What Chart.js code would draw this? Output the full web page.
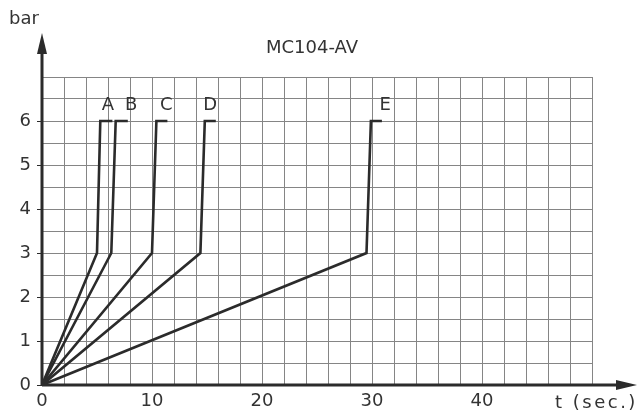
<!DOCTYPE html>
<html>
<head>
<meta charset="utf-8">
<script src="https://cdn.jsdelivr.net/npm/chart.js@4.4.1/dist/chart.umd.min.js"></script>
<style>
  body { margin: 0; background: #fff; }
  #wrap { width: 644px; height: 414px; position: relative; }
</style>
</head>
<body>
<div id="wrap"><canvas id="chart"></canvas></div>
<script>
// curve names and their (t, bar) points
const curveNames = ['A', 'B', 'C', 'D', 'E'];
const curveT = [
  [0, 5.0, 5.3, 6.4],
  [0, 6.3, 6.7, 7.8],
  [0, 10.0, 10.4, 11.4],
  [0, 14.4, 14.8, 15.8],
  [0, 29.5, 29.9, 30.9]
];
const curveBar = [0, 3, 6, 6];
// where the letters sit
const labelT = [6.0, 8.1, 11.3, 15.3, 31.2];
const labelBar = 6.25;

const xTickLabels = [0, 10, 20, 30, 40];
const yTickLabels = [0, 1, 2, 3, 4, 5, 6];
const chartTitle = 'MC104-AV';

const FONT = '"DejaVu Sans", sans-serif';
const INK = '#2b2b2b';

const datasets = curveNames.map((name, i) => ({
  label: name,
  data: curveT[i].map((t, j) => ({ x: t, y: curveBar[j] })),
  borderColor: INK,
  borderWidth: 2.6,
  pointRadius: 0,
  fill: false,
  tension: 0
}));

const decorPlugin = {
  id: 'decor',
  afterDatasetsDraw(chart) {
    const { ctx, chartArea, scales } = chart;
    const x0 = scales.x.getPixelForValue(0);
    const y0 = scales.y.getPixelForValue(0);
    ctx.save();
    // axes with arrows
    ctx.strokeStyle = INK;
    ctx.fillStyle = INK;
    ctx.lineWidth = 3;
    ctx.beginPath();
    ctx.moveTo(x0, y0);
    ctx.lineTo(x0, 50);
    ctx.moveTo(x0, y0);
    ctx.lineTo(620, y0);
    ctx.stroke();
    ctx.beginPath();
    ctx.moveTo(x0, 33);
    ctx.lineTo(x0 - 5, 54);
    ctx.lineTo(x0 + 5, 54);
    ctx.closePath();
    ctx.fill();
    ctx.beginPath();
    ctx.moveTo(637, y0);
    ctx.lineTo(616, y0 - 5);
    ctx.lineTo(616, y0 + 5);
    ctx.closePath();
    ctx.fill();

    // curve letters
    ctx.fillStyle = '#333';
    ctx.font = '18px ' + FONT;
    ctx.textAlign = 'center';
    ctx.textBaseline = 'alphabetic';
    curveNames.forEach((n, i) => {
      ctx.fillText(n, scales.x.getPixelForValue(labelT[i]), scales.y.getPixelForValue(labelBar));
    });

    // title and axis names
    ctx.textBaseline = 'middle';
    ctx.fillText(chartTitle, (chartArea.left + chartArea.right) / 2 - 5, 48);
    ctx.textAlign = 'left';
    ctx.fillText('bar', 9, 19);
    ctx.letterSpacing = '2.5px';
    ctx.fillText('t (sec.)', 555, 403);
    ctx.restore();
  }
};

new Chart(document.getElementById('chart'), {
  type: 'line',
  data: { datasets },
  options: {
    responsive: true,
    maintainAspectRatio: false,
    animation: false,
    layout: { padding: { top: 77, right: 52, left: 0, bottom: 0 } },
    plugins: { legend: { display: false }, tooltip: { enabled: false } },
    scales: {
      x: {
        type: 'linear',
        min: 0,
        max: 50,
        afterFit: (s) => { s.height = 29; },
        border: { display: false },
        grid: { color: '#858585', lineWidth: 1, drawTicks: false },
        ticks: {
          stepSize: 2,
          autoSkip: false,
          maxRotation: 0,
          padding: 6,
          color: '#333',
          font: { family: 'DejaVu Sans', size: 18 },
          callback: (v) => xTickLabels.includes(v) ? String(v) : ''
        }
      },
      y: {
        type: 'linear',
        min: 0,
        max: 7,
        afterFit: (s) => { s.width = 42; },
        border: { display: false },
        grid: {
          color: '#858585',
          lineWidth: 1,
          tickLength: 5,
          tickColor: (c) => yTickLabels.includes(c.tick.value) ? INK : 'rgba(0,0,0,0)'
        },
        ticks: {
          stepSize: 0.5,
          autoSkip: false,
          padding: 6,
          color: '#333',
          font: { family: 'DejaVu Sans', size: 18 },
          callback: (v) => yTickLabels.includes(v) ? String(v) : ''
        }
      }
    }
  },
  plugins: [decorPlugin]
});
</script>
</body>
</html>
